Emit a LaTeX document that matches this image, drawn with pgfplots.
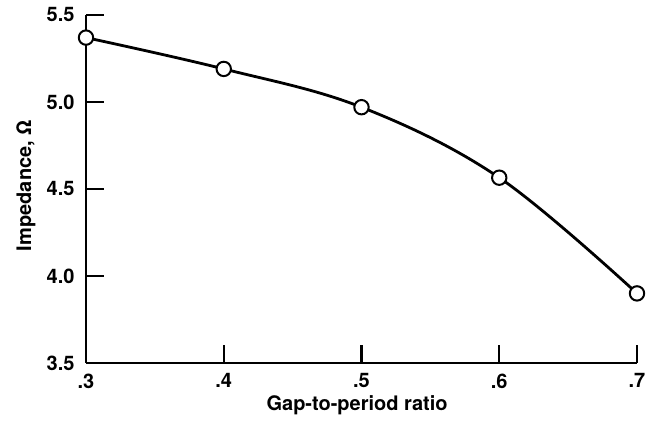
\documentclass[border=0pt]{standalone}
\usepackage{pgfplots}
\pgfplotsset{compat=1.18}
\usepackage{fontspec}
\setmainfont{TeX Gyre Heros}
\begin{document}
\begin{tikzpicture}
\path[use as bounding box] (-43pt,-31.5pt) rectangle (285.5pt,181.5pt);
\begin{axis}[
  at={(0,0)}, anchor=south west,
  scale only axis, width=275.5pt, height=174pt,
  xmin=0.3, xmax=0.7, ymin=3.5, ymax=5.5,
  axis x line*=bottom, axis y line*=left,
  axis line style={line width=1.3pt},
  tick style={line width=1.1pt, black},
  tick align=inside, major tick length=9pt,
  xtick={0.3,0.4,0.5,0.6,0.7},
  xticklabels={.3,.4,.5,.6,.7},
  ytick={3.5,4.0,4.5,5.0,5.5},
  yticklabels={3.5,4.0,4.5,5.0,5.5},
  ticklabel style={font=\fontsize{10}{11}\selectfont\bfseries},
  label style={font=\fontsize{10}{11}\selectfont\bfseries},
  xlabel={Gap-to-period ratio},
  ylabel={Impedance, Ω},
  xticklabel style={yshift=-1.8pt},
  yticklabel style={xshift=-2.2pt},
  xlabel style={at={(axis description cs:0.492,0)}, anchor=base, yshift=-24pt},
  ylabel style={at={(axis description cs:-0.109,0.51)}, anchor=center},
  clip=false,
]
\addplot[black, line width=1.4pt, smooth, tension=0.6, mark=*, mark size=3.6pt,
  mark options={fill=white, draw=black, line width=1pt}]
  coordinates {(0.3,5.37) (0.4,5.19) (0.5,4.97) (0.6,4.565) (0.7,3.90)};
\end{axis}
\end{tikzpicture}
\end{document}
